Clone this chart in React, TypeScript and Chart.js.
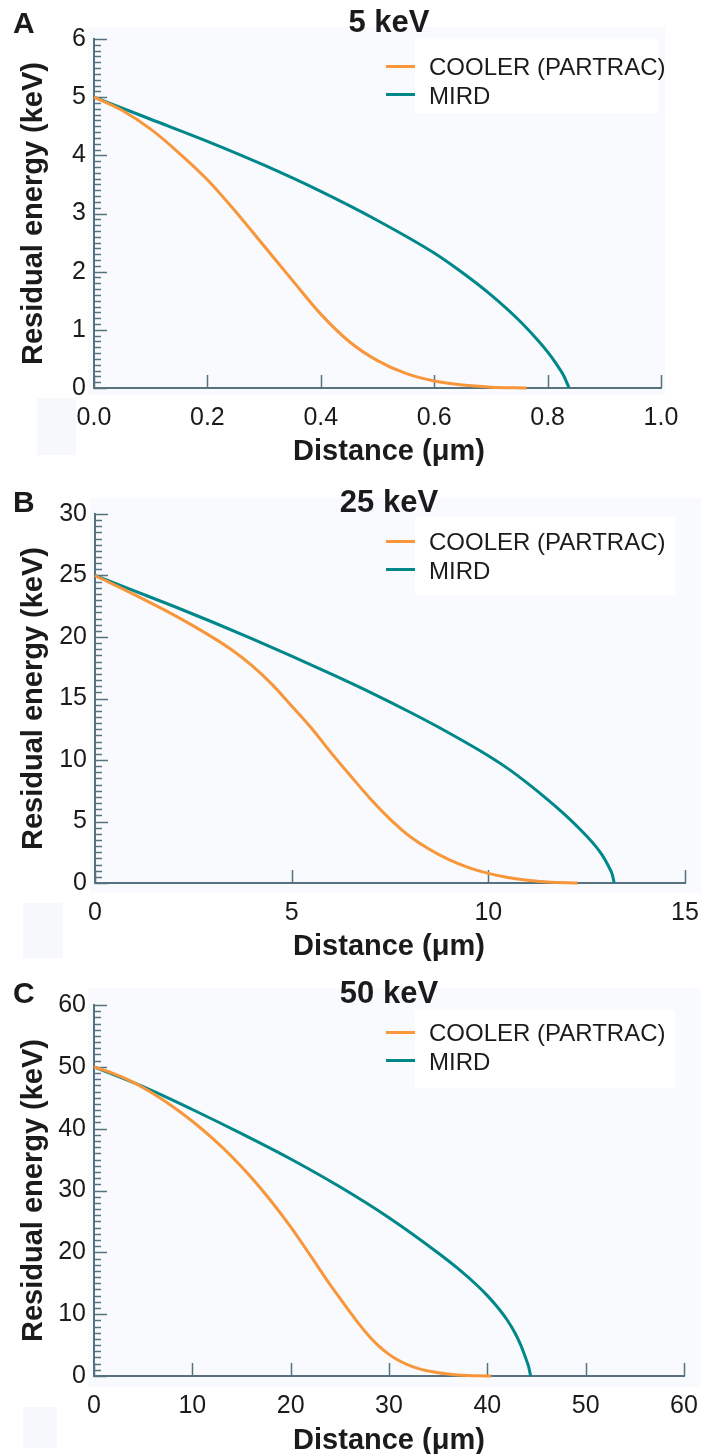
import React, { useEffect, useRef } from "react";
import { Chart, registerables } from "chart.js";

Chart.register(...registerables);

// ---------- DATA ----------
const SERIES_LABELS = ["COOLER (PARTRAC)", "MIRD"];
const PANEL_LETTERS = ["A", "B", "C"];
const PANEL_TITLES = ["5 keV", "25 keV", "50 keV"];
const X_TITLE = "Distance (\u03bcm)";
const Y_TITLE = "Residual energy (keV)";

// Panel A (5 keV)
const A_X_MAX = 1.0;
const A_X_STEP = 0.2;
const A_Y_MAX = 6;
const A_Y_STEP = 1;
const A_COOLER_X = [0, 0.05, 0.1, 0.15, 0.2, 0.25, 0.3, 0.35, 0.4, 0.45, 0.5, 0.55, 0.6, 0.65, 0.7, 0.763];
const A_COOLER_Y = [5, 4.77, 4.45, 4.04, 3.58, 3.03, 2.44, 1.85, 1.27, 0.8, 0.47, 0.25, 0.12, 0.05, 0.015, 0];
const A_MIRD_X = [0, 0.1, 0.2, 0.3, 0.4, 0.5, 0.6, 0.65, 0.7, 0.75, 0.78, 0.8, 0.815, 0.828, 0.838];
const A_MIRD_Y = [5, 4.62, 4.24, 3.83, 3.38, 2.88, 2.32, 1.98, 1.6, 1.16, 0.85, 0.62, 0.42, 0.22, 0];

// Panel B (25 keV)
const B_X_MAX = 15;
const B_X_STEP = 5;
const B_Y_MAX = 30;
const B_Y_STEP = 5;
const B_COOLER_X = [0, 1, 2, 3, 3.5, 4, 4.5, 5, 5.5, 6, 6.5, 7, 7.5, 8, 8.5, 9, 9.5, 10, 10.5, 11, 11.5, 12.27];
const B_COOLER_Y = [25, 23.45, 21.8, 19.95, 18.9, 17.65, 16.15, 14.4, 12.6, 10.6, 8.7, 6.85, 5.2, 3.8, 2.75, 1.9, 1.25, 0.78, 0.45, 0.22, 0.08, 0];
const B_MIRD_X = [0, 1, 2, 3, 4, 5, 6, 7, 8, 9, 10, 10.5, 11, 11.5, 12, 12.4, 12.7, 12.9, 13.05, 13.15, 13.2];
const B_MIRD_Y = [25, 23.75, 22.5, 21.2, 19.85, 18.45, 17.0, 15.5, 13.9, 12.2, 10.35, 9.3, 8.1, 6.8, 5.4, 4.15, 3.1, 2.25, 1.4, 0.7, 0];

// Panel C (50 keV)
const C_X_MAX = 60;
const C_X_STEP = 10;
const C_Y_MAX = 60;
const C_Y_STEP = 10;
const C_COOLER_X = [0, 2, 4, 6, 8, 10, 12, 14, 16, 18, 20, 22, 24, 25, 26, 27, 28, 29, 30, 31, 32, 33, 34, 35, 36, 37, 38, 39, 40.4];
const C_COOLER_Y = [50, 48.9, 47.5, 45.7, 43.6, 41.2, 38.5, 35.5, 32.1, 28.3, 24.1, 19.5, 14.8, 12.6, 10.4, 8.3, 6.4, 4.8, 3.5, 2.5, 1.75, 1.2, 0.8, 0.52, 0.32, 0.18, 0.09, 0.03, 0];
const C_MIRD_X = [0, 5, 10, 15, 20, 25, 30, 35, 37, 39, 40, 41, 42, 42.8, 43.4, 43.9, 44.2, 44.4];
const C_MIRD_Y = [50, 46.8, 43.1, 39.2, 35.1, 30.6, 25.6, 19.9, 17.4, 14.6, 13.0, 11.2, 9.1, 7.0, 5.0, 2.9, 1.5, 0];

// ---------- STYLE ----------
const ORANGE = "#F7963A";
const TEAL = "#00878A";
const AXIS = "#56727E";
const TEXT = "#1b1b1b";
const PLOT_BG = "#F8FAFD";
const SMUDGE = "#F6F8FC";
const FONT = "'Liberation Sans', Arial, Helvetica, sans-serif";

type Geom = {
  h: number; top: number; bottom: number; left: number; right: number;
  titleY: number; letterY: number; xTitleY: number;
  bg: number[]; smudge: number[]; legendBox: number[];
};

const GEOMS: Geom[] = [
  { h: 485, top: 39, bottom: 388, left: 94, right: 661, titleY: 23, letterY: 25, xTitleY: 452,
    bg: [88, 27, 665, 395], smudge: [37, 398, 76, 455], legendBox: [415, 38, 658, 113] },
  { h: 495, top: 29, bottom: 398, left: 95, right: 685, titleY: 18, letterY: 19, xTitleY: 462,
    bg: [90, 13, 701, 408], smudge: [23, 418, 63, 473], legendBox: [415, 32, 675, 110] },
  { h: 474, top: 25, bottom: 396, left: 94, right: 684, titleY: 14, letterY: 15, xTitleY: 461,
    bg: [88, 8, 701, 407], smudge: [23, 427, 57, 468], legendBox: [415, 30, 675, 108] },
];

const PANEL_DATA = [
  { xMax: A_X_MAX, xStep: A_X_STEP, yMax: A_Y_MAX, yStep: A_Y_STEP, dec: 1,
    cx: A_COOLER_X, cy: A_COOLER_Y, mx: A_MIRD_X, my: A_MIRD_Y },
  { xMax: B_X_MAX, xStep: B_X_STEP, yMax: B_Y_MAX, yStep: B_Y_STEP, dec: 0,
    cx: B_COOLER_X, cy: B_COOLER_Y, mx: B_MIRD_X, my: B_MIRD_Y },
  { xMax: C_X_MAX, xStep: C_X_STEP, yMax: C_Y_MAX, yStep: C_Y_STEP, dec: 0,
    cx: C_COOLER_X, cy: C_COOLER_Y, mx: C_MIRD_X, my: C_MIRD_Y },
];

const zip = (xs: number[], ys: number[]) => xs.map((x, i) => ({ x, y: ys[i] }));

const decorPlugin = {
  id: "decor",
  beforeDraw(chart: any, _args: any, o: any) {
    const ctx = chart.ctx;
    const g: Geom = o.geom;
    ctx.save();
    ctx.fillStyle = "#ffffff";
    ctx.fillRect(0, 0, chart.width, chart.height);
    ctx.fillStyle = PLOT_BG;
    ctx.fillRect(g.bg[0], g.bg[1], g.bg[2] - g.bg[0], g.bg[3] - g.bg[1]);
    ctx.fillStyle = SMUDGE;
    ctx.fillRect(g.smudge[0], g.smudge[1], g.smudge[2] - g.smudge[0], g.smudge[3] - g.smudge[1]);
    ctx.fillStyle = "#ffffff";
    ctx.fillRect(g.legendBox[0], g.legendBox[1], g.legendBox[2] - g.legendBox[0], g.legendBox[3] - g.legendBox[1]);
    ctx.restore();
  },
  beforeDatasetsDraw(chart: any, _args: any, o: any) {
    const ctx = chart.ctx;
    const xs = chart.scales.x;
    const ys = chart.scales.y;
    const area = chart.chartArea;
    ctx.save();
    ctx.strokeStyle = AXIS;
    ctx.lineWidth = 1.5;
    const minor = o.yStep / 10;
    const n = Math.round((ys.max - ys.min) / minor);
    for (let i = 0; i <= n; i++) {
      const v = ys.min + i * minor;
      const py = Math.round(ys.getPixelForValue(v)) + 0.5;
      const len = i % 10 === 0 ? 13 : 7;
      ctx.beginPath();
      ctx.moveTo(area.left, py);
      ctx.lineTo(area.left + len, py);
      ctx.stroke();
    }
    xs.ticks.forEach((t: any) => {
      const px = Math.round(xs.getPixelForValue(t.value)) + 0.5;
      ctx.beginPath();
      ctx.moveTo(px, area.bottom);
      ctx.lineTo(px, area.bottom - 13);
      ctx.stroke();
    });
    ctx.restore();
  },
  afterDraw(chart: any, _args: any, o: any) {
    const ctx = chart.ctx;
    const g: Geom = o.geom;
    const area = chart.chartArea;
    ctx.save();
    ctx.fillStyle = TEXT;
    ctx.textBaseline = "middle";
    ctx.font = `bold 30px ${FONT}`;
    ctx.textAlign = "left";
    ctx.fillText(o.letter, 13, g.letterY);
    ctx.font = `bold 31px ${FONT}`;
    ctx.textAlign = "center";
    ctx.fillText(o.title, 389, g.titleY);
    ctx.font = `bold 29px ${FONT}`;
    ctx.fillText(X_TITLE, 389, g.xTitleY);
    ctx.save();
    ctx.translate(34, (area.top + area.bottom) / 2);
    ctx.rotate(-Math.PI / 2);
    ctx.font = `bold 29px ${FONT}`;
    ctx.fillText(Y_TITLE, 0, 0);
    ctx.restore();
    const rows = [area.top + 29, area.top + 58.5];
    const lineRows = [area.top + 27.5, area.top + 55.5];
    chart.data.datasets.forEach((ds: any, i: number) => {
      ctx.strokeStyle = ds.borderColor;
      ctx.lineWidth = 3;
      ctx.beginPath();
      ctx.moveTo(386, lineRows[i]);
      ctx.lineTo(415, lineRows[i]);
      ctx.stroke();
      ctx.fillStyle = TEXT;
      ctx.font = `24px ${FONT}`;
      ctx.textAlign = "left";
      ctx.fillText(ds.label, 429, rows[i]);
    });
    ctx.restore();
  },
};

function Panel({ idx }: { idx: number }) {
  const ref = useRef<HTMLCanvasElement>(null);
  const g = GEOMS[idx];
  const d = PANEL_DATA[idx];
  useEffect(() => {
    const canvas = ref.current!;
    const chart = new Chart(canvas, {
      type: "line",
      data: {
        datasets: [
          { label: SERIES_LABELS[0], data: zip(d.cx, d.cy), borderColor: ORANGE, borderWidth: 3,
            pointRadius: 0, cubicInterpolationMode: "monotone", fill: false, clip: false } as any,
          { label: SERIES_LABELS[1], data: zip(d.mx, d.my), borderColor: TEAL, borderWidth: 3,
            pointRadius: 0, cubicInterpolationMode: "monotone", fill: false, clip: false } as any,
        ],
      },
      options: {
        animation: false,
        responsive: false,
        devicePixelRatio: 1,
        events: [],
        layout: { padding: { top: g.top, left: 0, right: 701 - g.right, bottom: 0 } },
        plugins: {
          legend: { display: false },
          tooltip: { enabled: false },
          decor: { geom: g, letter: PANEL_LETTERS[idx], title: PANEL_TITLES[idx], yStep: d.yStep },
        } as any,
        scales: {
          x: {
            type: "linear",
            min: 0,
            max: d.xMax,
            grid: { display: false, drawTicks: false },
            border: { display: true, color: AXIS, width: 2 },
            ticks: {
              stepSize: d.xStep,
              autoSkip: false,
              maxRotation: 0,
              padding: 15,
              color: TEXT,
              font: { family: FONT, size: 25 },
              callback: (v: any) => Number(v).toFixed(d.dec),
            },
            afterFit: (s: any) => {
              s.height = g.h - g.bottom;
              s.paddingLeft = 0; s.paddingRight = 0; s.paddingTop = 0; s.paddingBottom = 0;
            },
          },
          y: {
            type: "linear",
            min: 0,
            max: d.yMax,
            grid: { display: false, drawTicks: false },
            border: { display: true, color: AXIS, width: 2 },
            ticks: {
              stepSize: d.yStep,
              autoSkip: false,
              padding: 8,
              color: TEXT,
              font: { family: FONT, size: 25 },
              callback: (v: any) => String(Math.round(Number(v))),
            },
            afterFit: (s: any) => {
              s.width = g.left;
              s.paddingLeft = 0; s.paddingRight = 0; s.paddingTop = 0; s.paddingBottom = 0;
            },
          },
        },
      } as any,
      plugins: [decorPlugin as any],
    });
    return () => chart.destroy();
  }, []);
  return (
    <canvas
      ref={ref}
      width={701}
      height={g.h}
      style={{ display: "block", width: 701, height: g.h }}
    />
  );
}

export default function App() {
  return (
    <div style={{ position: "absolute", left: 0, top: 0, width: 701, background: "#ffffff" }}>
      <Panel idx={0} />
      <Panel idx={1} />
      <Panel idx={2} />
    </div>
  );
}
